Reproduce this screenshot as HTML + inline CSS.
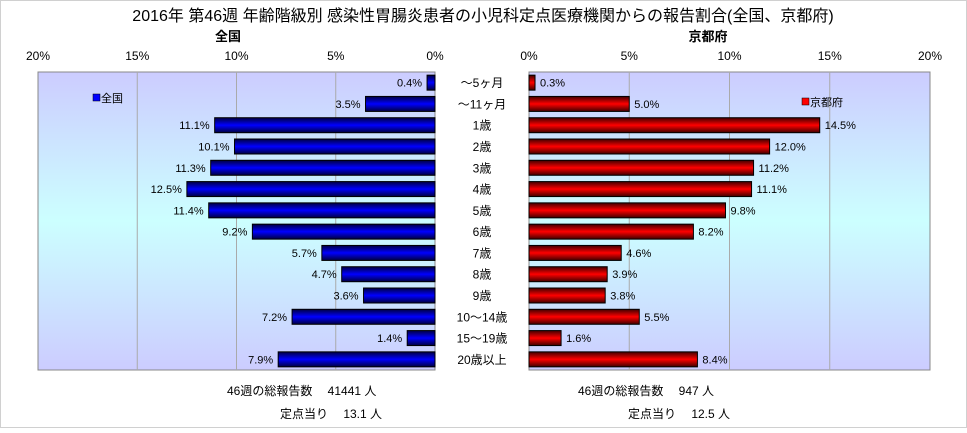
<!DOCTYPE html>
<html><head><meta charset="utf-8"><style>
body{margin:0;background:#fff;}
svg text{font-family:"Liberation Sans","Noto Sans CJK JP",sans-serif;fill:#000;}
</style></head><body>
<svg id="c" width="967" height="428" viewBox="0 0 967 428" xmlns="http://www.w3.org/2000/svg">
<defs>
<linearGradient id="bg" x1="0" y1="0" x2="0" y2="1">
<stop offset="0" stop-color="#ccccff"/><stop offset="0.5" stop-color="#ccffff"/><stop offset="1" stop-color="#ccccff"/></linearGradient>
<linearGradient id="gb" x1="0" y1="0" x2="0" y2="1">
<stop offset="0" stop-color="#000040"/><stop offset="0.5" stop-color="#0000ff"/><stop offset="1" stop-color="#000040"/></linearGradient>
<linearGradient id="gr" x1="0" y1="0" x2="0" y2="1">
<stop offset="0" stop-color="#400000"/><stop offset="0.5" stop-color="#ff0000"/><stop offset="1" stop-color="#400000"/></linearGradient>
</defs>
<rect x="0.5" y="0.5" width="966" height="427" fill="#fff" stroke="#d0d0d0"/>
<text x="483" y="21" font-size="16" text-anchor="middle">2016年 第46週 年齢階級別 感染性胃腸炎患者の小児科定点医療機関からの報告割合(全国、京都府)</text>
<text x="228" y="41" font-size="13" font-weight="bold" text-anchor="middle">全国</text>
<text x="708" y="41" font-size="13" font-weight="bold" text-anchor="middle">京都府</text>
<rect x="38" y="72" width="397" height="298" fill="url(#bg)" stroke="#888"/>
<rect x="529" y="72" width="401" height="298" fill="url(#bg)" stroke="#888"/>
<g id="g"></g>
<rect x="93" y="94" width="7" height="7" fill="#0000ff" stroke="#000" stroke-width="0.5"/>
<text x="101" y="102" font-size="11">全国</text>
<rect x="802" y="98" width="7" height="7" fill="#ff0000" stroke="#000" stroke-width="0.5"/>
<text x="810" y="106" font-size="11">京都府</text>
<text x="227" y="395" font-size="12">46週の総報告数　 41441 人</text>
<text x="280" y="418" font-size="12">定点当り　 13.1 人</text>
<text x="578" y="395" font-size="12">46週の総報告数　 947 人</text>
<text x="628" y="418" font-size="12">定点当り　 12.5 人</text>
</svg>
<script>
const categories=["～5ヶ月","～11ヶ月","1歳","2歳","3歳","4歳","5歳","6歳","7歳","8歳","9歳","10～14歳","15～19歳","20歳以上"];
const nationalValues=[0.4,3.5,11.1,10.1,11.3,12.5,11.4,9.2,5.7,4.7,3.6,7.2,1.4,7.9];
const kyotoValues=[0.3,5.0,14.5,12.0,11.2,11.1,9.8,8.2,4.6,3.9,3.8,5.5,1.6,8.4];
const tickValues=[0,5,10,15,20];
const NS="http://www.w3.org/2000/svg";
const g=document.getElementById('g');
const top0=72,bottom0=370,band=(bottom0-top0)/categories.length,barH=15;
const xL=v=>435-v*(397/20);
const xR=v=>529+v*(401/20);
const yC=i=>top0+band*(i+0.5);
function mk(t,a){const e=document.createElementNS(NS,t);for(const k in a)e.setAttribute(k,a[k]);g.appendChild(e);return e;}
tickValues.forEach(t=>{
  if(t>0&&t<20){
    const l1=mk('line',{x1:xL(t),x2:xL(t),y1:top0,y2:bottom0,stroke:'#aaa'});
    
    
    const l2=mk('line',{x1:xR(t),x2:xR(t),y1:top0,y2:bottom0,stroke:'#aaa'});
    
    
  }
  const a=mk('text',{x:xL(t),y:60,'font-size':12,'text-anchor':'middle'});a.textContent=t+'%';
  
  
  const b=mk('text',{x:xR(t),y:60,'font-size':12,'text-anchor':'middle'});b.textContent=t+'%';
  
  
});
categories.forEach((c,i)=>{
  const y=yC(i);
  const cl=mk('text',{x:482,y:y+4.5,'font-size':12,'text-anchor':'middle'});cl.textContent=c;
  
  
  const v=nationalValues[i];
  const b=mk('rect',{x:xL(v),y:y-barH/2,width:435-xL(v),height:barH,fill:'url(#gb)',stroke:'#000','stroke-width':1});
  
  
  const t=mk('text',{x:xL(v)-5,y:y+4,'font-size':11,'text-anchor':'end'});t.textContent=v.toFixed(1)+'%';
  
  
  const w=kyotoValues[i];
  const r=mk('rect',{x:529,y:y-barH/2,width:xR(w)-529,height:barH,fill:'url(#gr)',stroke:'#000','stroke-width':1});
  
  
  const u=mk('text',{x:xR(w)+5,y:y+4,'font-size':11});u.textContent=w.toFixed(1)+'%';
  
  
});
</script>
</body></html>
